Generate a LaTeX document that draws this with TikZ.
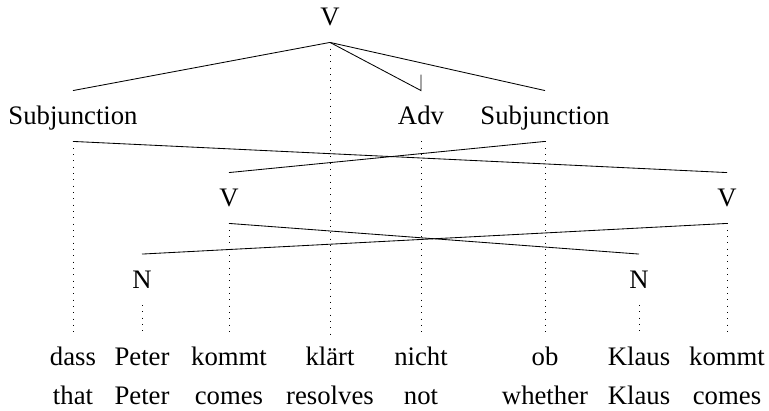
\documentclass[tikz,border=0pt]{standalone}
\usepackage{fontspec}
\setmainfont{Liberation Serif}
\begin{document}
\begin{tikzpicture}[x=0.025cm,y=-0.025cm,line width=0.6pt,
  cat/.style={inner sep=0pt,minimum height=1.25cm,text height=0.66em,text depth=0pt},
  word/.style={inner xsep=0pt,inner ysep=8.5pt,text height=0.7em,text depth=0.2em,anchor=base},
  proj/.style={dash pattern=on 0.6pt off 3.9pt}]
\fontsize{19}{23}\selectfont
\useasboundingbox (0,0) rectangle (769,411);
\node[cat] (vtop) at (330,17) {V};
\node[cat] (subj1) at (73,116) {Subjunction};
\node[cat] (adv) at (421,116) {Adv};
\node[cat] (subj2) at (545,116) {Subjunction};
\node[cat] (v1) at (229,198) {V};
\node[cat] (v2) at (727,198) {V};
\node[cat] (n1) at (142,279.5) {N};
\node[cat] (n2) at (639,279.5) {N};
\node[word] (w1) at (73,366) {dass};
\node[word] (w2) at (142,366) {Peter};
\node[word] (w3) at (229,366) {kommt};
\node[word] (w4) at (330,366) {klärt};
\node[word] (w5) at (421,366) {nicht};
\node[word] (w6) at (545,366) {ob};
\node[word] (w7) at (639,366) {Klaus};
\node[word] (w8) at (727,366) {kommt};
\node[word] (g1) at (73,405) {that};
\node[word] (g2) at (142,405) {Peter};
\node[word] (g3) at (229,405) {comes};
\node[word] (g4) at (330,405) {resolves};
\node[word] (g5) at (421,405) {not};
\node[word] (g6) at (545,405) {whether};
\node[word] (g7) at (639,405) {Klaus};
\node[word] (g8) at (727,405) {comes};
\draw (vtop.south) -- (subj1.north);
\draw (vtop.south) -- (subj2.north);
\draw (vtop.south) -- (adv.north) -- ++(0,-16);
\draw (subj1.south) -- (v2.north);
\draw (subj2.south) -- (v1.north);
\draw (v1.south) -- (n2.north);
\draw (v2.south) -- (n1.north);
\draw[proj] (vtop.south) -- (w4.north);
\draw[proj] (subj1.south) -- (w1.north);
\draw[proj] (adv.south) -- (w5.north);
\draw[proj] (subj2.south) -- (w6.north);
\draw[proj] (v1.south) -- (w3.north);
\draw[proj] (v2.south) -- (w8.north);
\draw[proj] (n1.south) -- (w2.north);
\draw[proj] (n2.south) -- (w7.north);
\end{tikzpicture}
\end{document}
